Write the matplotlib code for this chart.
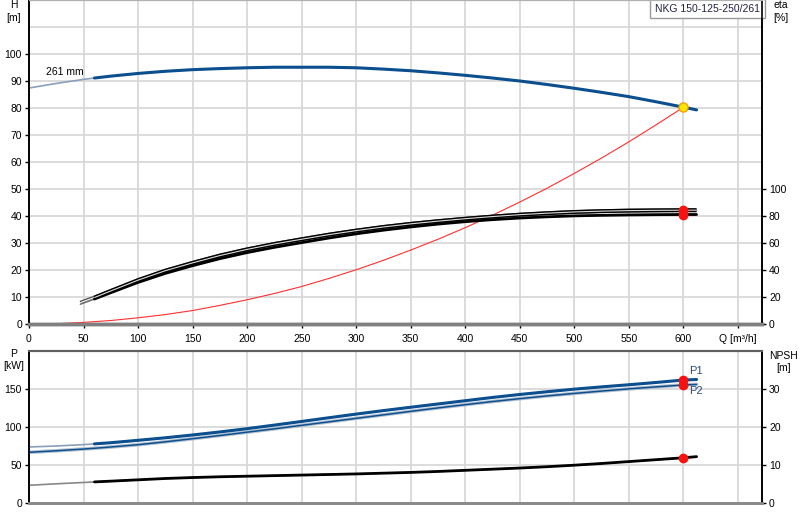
import numpy as np
import matplotlib.pyplot as plt

plt.rcParams['font.family'] = ['Liberation Sans', 'DejaVu Sans']
plt.rcParams['font.size'] = 7.5
plt.rcParams['lines.solid_capstyle'] = 'round'

# pump curve H(Q)
q_h = [0, 25, 50, 60, 75, 100, 125, 150, 175, 200, 225, 250, 275, 300, 325,
       350, 375, 400, 425, 450, 475, 500, 525, 550, 575, 600, 612]
h_vals = [87.4, 89.1, 90.6, 91.1, 91.8, 92.8, 93.6, 94.2, 94.6, 94.9, 95.1, 95.1,
          95.1, 94.9, 94.4, 93.8, 93.0, 92.1, 91.1, 90.0, 88.7, 87.3, 85.8, 84.2,
          82.3, 80.3, 79.3]

# system curve (red)
q_sys = [5, 25, 50, 75, 100, 125, 150, 175, 200, 225, 250, 275, 300, 325, 350,
         375, 400, 425, 450, 475, 500, 525, 550, 575, 600]
h_sys = [0, 0.1, 0.6, 1.3, 2.3, 3.5, 5.0, 6.9, 9.0, 11.3, 13.9, 16.9, 20.1, 23.6,
         27.4, 31.4, 35.7, 40.3, 45.2, 50.3, 55.8, 61.5, 67.5, 73.8, 80.3]

# efficiency curves (%)
q_eta = [47, 60, 75, 100, 125, 150, 175, 200, 225, 250, 275, 300, 325, 350, 375,
         400, 425, 450, 475, 500, 525, 550, 575, 600, 612]
eta1 = [15.8, 19.6, 24.5, 32.5, 39.5, 45.3, 50.7, 55.3, 59.3, 62.8, 66.2, 69.2,
        71.9, 74.2, 76.2, 78.0, 79.6, 81.0, 82.1, 83.0, 83.6, 84.0, 84.2, 84.3, 84.3]
eta2 = [14.6, 18.5, 23.2, 30.8, 37.5, 43.2, 48.4, 52.9, 56.8, 60.3, 63.7, 66.8,
        69.5, 71.9, 74.0, 75.8, 77.3, 78.5, 79.4, 80.1, 80.5, 80.8, 81.0, 81.1, 81.1]

# power and NPSH
q_p = [0, 25, 50, 60, 75, 100, 125, 150, 175, 200, 225, 250, 275, 300, 325,
       350, 375, 400, 425, 450, 475, 500, 525, 550, 575, 600, 612]
p1 = [73.7, 75.0, 76.8, 77.8, 79.3, 82.5, 85.8, 89.5, 93.5, 97.8, 102.5, 107.3,
      112.2, 117.0, 121.6, 126.0, 130.3, 134.6, 138.9, 142.8, 146.4, 149.8, 152.8,
      155.6, 158.6, 161.8, 162.5]
p2 = [66.7, 68.7, 71.0, 72.0, 73.7, 76.7, 80.5, 84.6, 88.8, 93.2, 97.6, 102.2,
      106.8, 111.4, 116.0, 120.6, 125.1, 129.4, 133.5, 137.3, 140.9, 144.2, 147.3,
      150.2, 152.8, 155.3, 156.0]
npsh = [4.66, 5.05, 5.4, 5.55, 5.75, 6.1, 6.45, 6.7, 6.9, 7.05, 7.2, 7.35, 7.5,
        7.65, 7.85, 8.05, 8.3, 8.6, 8.9, 9.2, 9.55, 9.95, 10.4, 10.9, 11.4, 11.9, 12.2]

q_duty = 600
h_duty = 80.3
eta_duty = [84.3, 81.1]
p_duty = [161.8, 155.3]
npsh_duty = 11.9

q_ticks = list(range(0, 651, 50))
q_labels = [str(v) for v in q_ticks[:-1]] + ['Q [m\u00b3/h]']

blue = '#0b4f8f'
blue_lt = '#8a9fba'
grid_c = '#d6d6d6'


def split(q, v, q0):
    q = np.array(q, float)
    v = np.array(v, float)
    m = q >= q0
    return q[m], v[m]


fig = plt.figure(figsize=(8, 5.2), dpi=100)
ax = fig.add_axes([0.03625, 0.3769, 0.91625, 0.6231])
ax2 = ax.twinx()
bx = fig.add_axes([0.03625, 0.0327, 0.91625, 0.2923])
bx2 = bx.twinx()

# ---- top panel
ax.set_xlim(0, 672)
ax.set_ylim(0, 120)
ax2.set_ylim(0, 240)
for v in q_ticks[1:]:
    ax.axvline(v, color=grid_c, lw=1.2, zorder=0)
for v in range(10, 120, 10):
    ax.axhline(v, color=grid_c, lw=1.2, zorder=0)

ax.plot(q_sys, h_sys, color='#ff3030', lw=0.8, zorder=3)
ax.plot(q_h, h_vals, color=blue_lt, lw=1.2, zorder=3)
qa, ha = split(q_h, h_vals, 60)
ax.plot(qa, ha, color=blue, lw=2.2, zorder=4)
ax.plot(q_duty, h_duty, 'o', ms=6.5, mfc='#ffe600', mec='#f5a000', mew=1, zorder=6)
ax.text(16, 93.3, '261 mm', va='center', ha='left')

ax2.plot(q_eta, eta1, color='#555555', lw=2.8, solid_capstyle='butt')
ax2.plot(q_eta, eta1, color='white', lw=0.8, solid_capstyle='butt')
ax2.plot(q_eta, eta2, color='#777777', lw=1.0)
qa, ea = split(q_eta, eta2, 60)
ax2.plot(qa, ea, color='black', lw=2.0)
qa, ea = split(q_eta, eta1, 60)
ax2.plot(qa, ea, color='black', lw=2.8, solid_capstyle='butt')
ax2.plot(qa, ea, color='#dddddd', lw=0.8, solid_capstyle='butt')
ax2.plot([q_duty] * 2, eta_duty, 'o', ms=6, color='#ff1010', zorder=6)

ax.set_xticks(q_ticks)
ax.set_xticklabels(q_labels)
ax.set_yticks(range(0, 101, 10))
ax2.set_yticks(range(0, 101, 20))
ax.tick_params(axis='both', length=3, width=1, pad=2)
ax.tick_params(axis='x', pad=4)
ax2.tick_params(axis='y', length=3, width=1, pad=2)

for a in (ax, ax2):
    a.spines['bottom'].set_color('#808080')
    a.spines['bottom'].set_linewidth(2.5)
    a.spines['top'].set_color('#b0b0b0')
    a.spines['left'].set_linewidth(1.2)
    a.spines['right'].set_linewidth(1.2)

ax.text(0.9975, 1 - 8.5 / 324, 'NKG 150-125-250/261', transform=ax.transAxes,
        ha='right', va='center', color='#222244', zorder=7,
        bbox=dict(boxstyle='square,pad=0.45', fc='white', ec='#9a9a9a', lw=1))

fig.text(14 / 800, 1 - 5 / 520, 'H', ha='center', va='center')
fig.text(14 / 800, 1 - 18 / 520, '[m]', ha='center', va='center')
fig.text(781 / 800, 1 - 5 / 520, 'eta', ha='center', va='center')
fig.text(781 / 800, 1 - 18 / 520, '[%]', ha='center', va='center')

# ---- bottom panel
bx.set_xlim(0, 672)
bx.set_ylim(0, 200)
bx2.set_ylim(0, 40)
for v in q_ticks[1:]:
    bx.axvline(v, color=grid_c, lw=1.2, zorder=0)
for v in (50, 100, 150):
    bx.axhline(v, color=grid_c, lw=1.2, zorder=0)

bx.plot(q_p, p1, color=blue_lt, lw=1.2, zorder=3)
qa, pa = split(q_p, p1, 60)
bx.plot(qa, pa, color=blue, lw=2.2, zorder=4)
bx.plot(q_p, p2, color='#b5c0cf', lw=2.6, zorder=3)
bx.plot(q_p, p2, color=blue, lw=1.1, zorder=4)
bx.plot([q_duty] * 2, p_duty, 'o', ms=6, color='#ff1010', zorder=6)
bx.text(605, 174, 'P1', color='#1f4e89', ha='left', va='center', fontsize=8)
bx.text(605, 148, 'P2', color='#1f4e89', ha='left', va='center', fontsize=8)

bx2.plot(q_p, npsh, color='#888888', lw=1.2)
qa, na = split(q_p, npsh, 60)
bx2.plot(qa, na, color='black', lw=2.0)
bx2.plot(q_duty, npsh_duty, 'o', ms=6, color='#ff1010', zorder=6)

bx.set_xticks(q_ticks)
bx.tick_params(axis='x', length=0, labelbottom=False)
bx.set_yticks([0, 50, 100, 150])
bx2.set_yticks([0, 10, 20, 30])
bx.tick_params(axis='y', length=3, width=1, pad=2)
bx2.tick_params(axis='y', length=3, width=1, pad=2)

for a in (bx, bx2):
    a.spines['bottom'].set_color('#8a8a8a')
    a.spines['bottom'].set_linewidth(2)
    a.spines['top'].set_color('#606060')
    a.spines['top'].set_linewidth(1.5)
    a.spines['left'].set_linewidth(1.2)
    a.spines['right'].set_linewidth(1.2)

fig.text(14 / 800, 1 - 354 / 520, 'P', ha='center', va='center')
fig.text(14 / 800, 1 - 366 / 520, '[kW]', ha='center', va='center')
fig.text(784 / 800, 1 - 356 / 520, 'NPSH', ha='center', va='center')
fig.text(784 / 800, 1 - 368 / 520, '[m]', ha='center', va='center')

fig.savefig('out.png', dpi=100)
